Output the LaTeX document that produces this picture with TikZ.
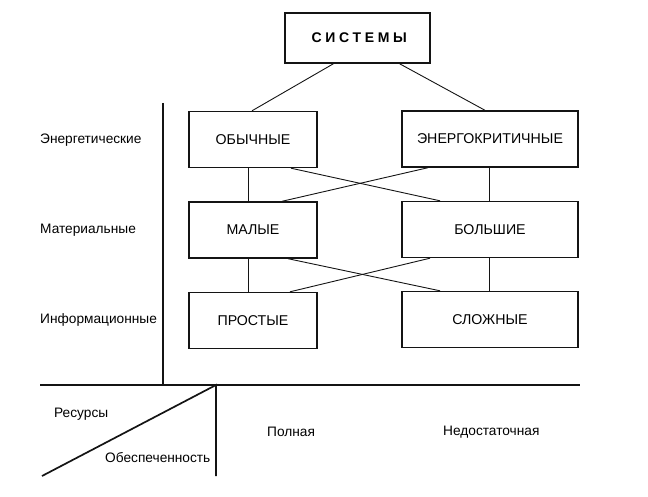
\documentclass[tikz,border=0pt]{standalone}
\usepackage{fontspec}
\setmainfont{Liberation Sans}
\usepackage{tikz}
\usetikzlibrary{calc}
\definecolor{schInk}{RGB}{20, 20, 20}

\begin{document}
\begin{tikzpicture}[x=1pt, y=-1pt,
  box/.style={draw=schInk, line width=1.4pt, minimum height=56pt, inner sep=0pt,
    font=\fontsize{14.2}{16}\selectfont},
  leftbox/.style={box, minimum width=128pt},
  rightbox/.style={box, minimum width=176pt},
  link/.style={draw=schInk, line width=0.9pt},
  axis/.style={draw=schInk, line width=1.7pt},
  lbl/.style={anchor=west, inner sep=0pt, font=\fontsize{13.7}{15}\selectfont}]

  \useasboundingbox (0,0) rectangle (648,497);

  % Boxes
  \node[box, minimum width=145pt, minimum height=50pt,
    font={\fontsize{14}{16}\selectfont\bfseries\addfontfeature{LetterSpace=26}}]
    (sys) at (357.5,38) {\hspace{3.5pt}СИСТЕМЫ};
  \node[leftbox]  (obych)  at (253,139.5) {ОБЫЧНЫЕ};
  \node[rightbox] (energo) at (490,139) {ЭНЕРГОКРИТИЧНЫЕ};
  \node[leftbox]  (malye)  at (253,230) {МАЛЫЕ};
  \node[rightbox] (bolsh)  at (490,229.5) {БОЛЬШИЕ};
  \node[leftbox]  (prost)  at (253,320.5) {ПРОСТЫЕ};
  \node[rightbox] (slozh)  at (490,319.5) {СЛОЖНЫЕ};

  % Links
  \draw[link] ([xshift=-24pt]sys.south) -- ([xshift=-1pt]obych.north);
  \draw[link] ([xshift=42pt]sys.south) -- ([xshift=-5pt]energo.north);
  \draw[link] ([xshift=-5pt]obych.south) -- ([xshift=-5pt]malye.north);
  \draw[link] ([xshift=-1pt]energo.south) -- ([xshift=-1pt]bolsh.north);
  \draw[link] ([xshift=38pt]obych.south) -- ([xshift=-50pt]bolsh.north);
  \draw[link] ([xshift=-62pt]energo.south) -- ([xshift=29pt]malye.north);
  \draw[link] ([xshift=-5pt]malye.south) -- ([xshift=-5pt]prost.north);
  \draw[link] ([xshift=-1pt]bolsh.south) -- ([xshift=-1pt]slozh.north);
  \draw[link] ([xshift=35pt]malye.south) -- ([xshift=-50pt]slozh.north);
  \draw[link] ([xshift=-60pt]bolsh.south) -- ([xshift=37pt]prost.north);

  % Axes
  \coordinate (corner) at (216,385);
  \draw[axis] (163,103) -- (163,385);
  \draw[axis] (40,385) -- (580,385);
  \draw[axis] (42,476) -- (corner) -- (216,476);

  % Row labels
  \node[lbl] (energy) at (40,140) {Энергетические};
  \node[lbl] (matter) at (40,230) {Материальные};
  \node[lbl] (inform) at (40,320) {Информационные};

  % Resource labels
  \node[lbl] (res)  at (54,414) {Ресурсы};
  \node[lbl] (supp) at (105,458) {Обеспеченность};
  \node[lbl] (full) at (267,432) {Полная};
  \node[lbl] (lack) at (443,432) {Недостаточная};
\end{tikzpicture}
\end{document}
